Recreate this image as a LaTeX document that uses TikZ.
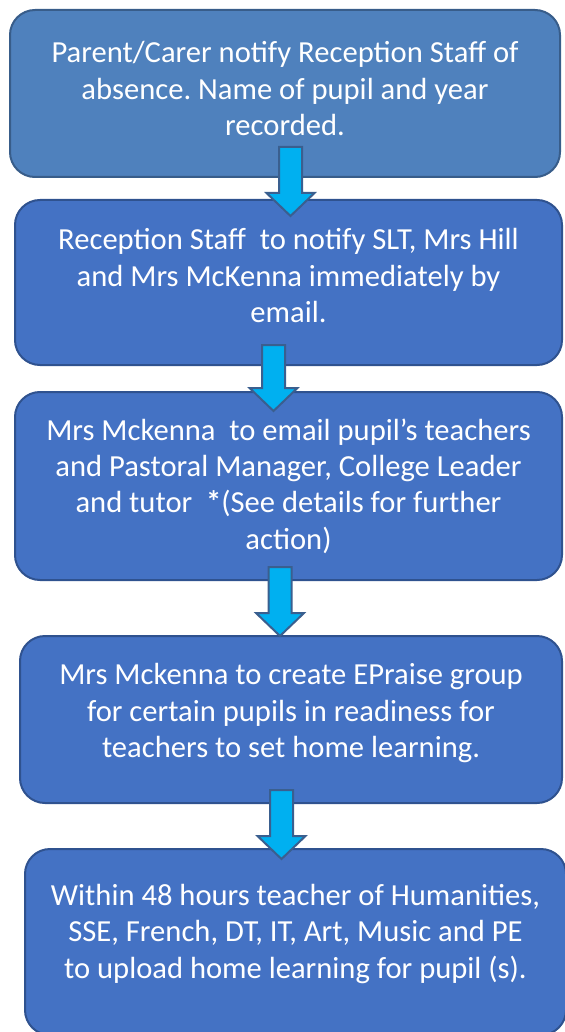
\documentclass[tikz,border=0pt]{standalone}
\usepackage{fontspec}
\setmainfont{Carlito}
\usepackage{tikz}
\usetikzlibrary{calc,positioning}
\frenchspacing

\definecolor{boxone}{HTML}{4F81BD}
\definecolor{boxonedraw}{HTML}{385D8A}
\definecolor{boxfill}{HTML}{4472C4}
\definecolor{boxdraw}{HTML}{2F528F}
\definecolor{arrowfill}{HTML}{00B0F0}
\definecolor{arrowdraw}{HTML}{3A5F8F}

% block arrow from a shaft top to a tip
\newcommand{\blockarrow}[2]{%
  \draw[flowarrow] ($(#1)+(-11.5,0)$) -- ($(#1)+(11.5,0)$)
    -- ($(#2)+(11.5,-23)$) -- ($(#2)+(24,-23)$) -- (#2)
    -- ($(#2)+(-24,-23)$) -- ($(#2)+(-11.5,-23)$) -- cycle;}

\begin{document}
\begin{tikzpicture}[x=0.5pt,y=-0.5pt,
    stepbox/.style={rectangle, rounded corners=12.5pt, line width=1pt,
      draw=boxdraw, fill=boxfill, text=white, align=center,
      font=\fontsize{15.3}{18.2}\selectfont, inner sep=0pt},
    liftup/.style={text depth=#1},
    flowarrow/.style={fill=arrowfill, draw=arrowdraw, line width=1pt,
      line join=miter}]
  \useasboundingbox (0,0) rectangle (564,1032);

  \node[stepbox, liftup=5pt, fill=boxone, draw=boxonedraw,
    minimum width=275pt, minimum height=83.5pt] (notify) at (285,93.5)
    {Parent/Carer notify Reception Staff of\\
     absence. Name of pupil and year\\ recorded.};
  \node[stepbox, liftup=7pt, minimum width=273.5pt, minimum height=82.5pt]
    (reception) at (288.5,282.5)
    {Reception Staff~ to notify SLT, Mrs Hill\\
     and Mrs McKenna immediately by\\ email.};
  \node[stepbox, minimum width=273.5pt, minimum height=94pt]
    (emailstaff) at (288.5,486)
    {Mrs Mckenna~ to email pupil’s teachers\\
     and Pastoral Manager, College Leader\\
     and tutor~ \textbf{*}(See details for further\\ action)};
  \node[stepbox, liftup=9pt, minimum width=271pt, minimum height=83.5pt]
    (epraise) at (291,719.5)
    {Mrs Mckenna to create EPraise group\\
     for certain pupils in readiness for\\
     teachers to set home learning.};
  \node[stepbox, liftup=11pt, minimum width=270.5pt, minimum height=93pt]
    (upload) at (295.5,942)
    {Within 48 hours teacher of Humanities,\\
     SSE, French, DT, IT, Art, Music and PE\\
     to upload home learning for pupil (s).};

  \coordinate (s1) at (290.5,147);
  \coordinate (t1) at (290.5,216);
  \coordinate (s2) at (273.5,345);
  \coordinate (t2) at (273.5,411);
  \coordinate (s3) at (280,567);
  \coordinate (t3) at (280,636);
  \coordinate (s4) at (281.5,790);
  \coordinate (t4) at (281.5,859);

  \blockarrow{s1}{t1}
  \blockarrow{s2}{t2}
  \blockarrow{s3}{t3}
  \blockarrow{s4}{t4}
\end{tikzpicture}
\end{document}
